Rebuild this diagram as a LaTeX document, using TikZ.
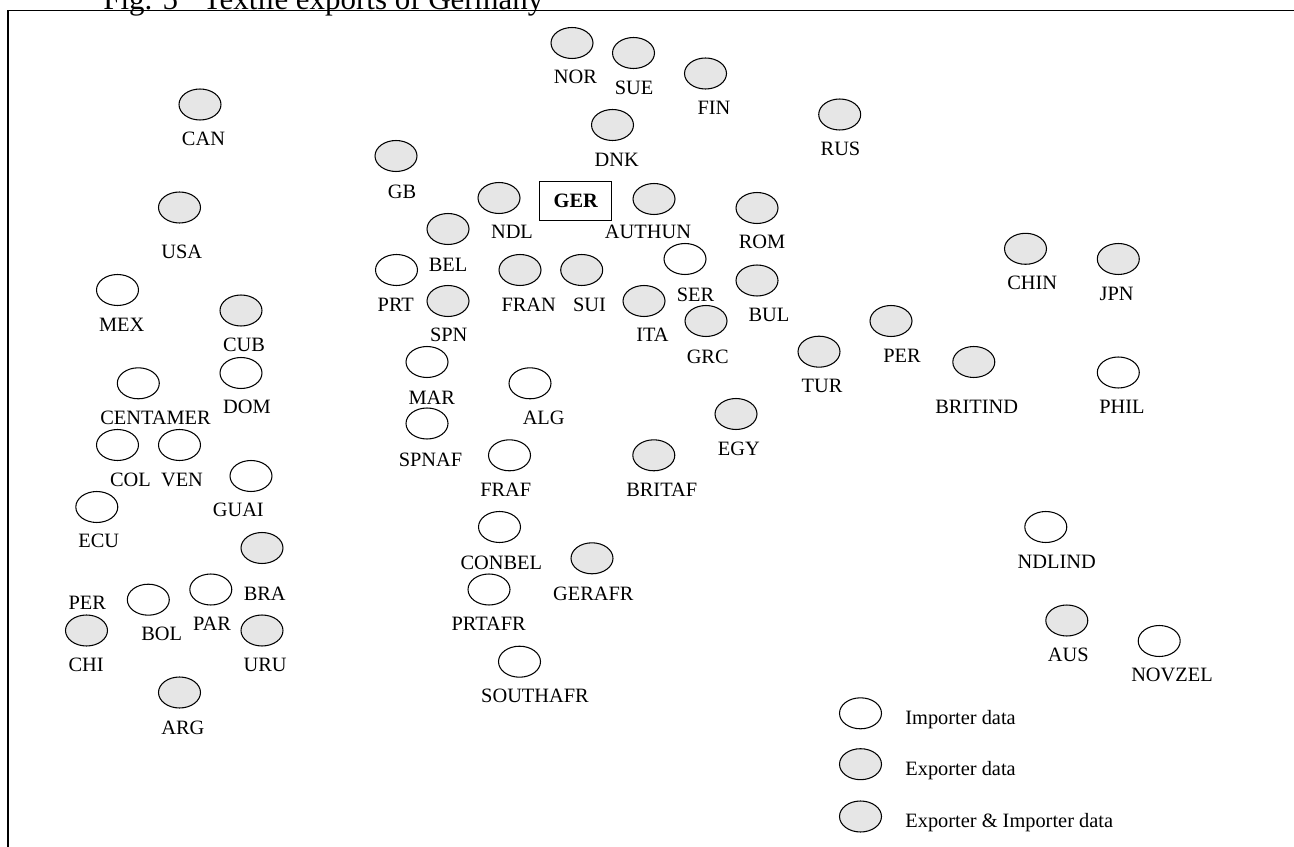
\documentclass[tikz,border=0pt]{standalone}
\usepackage{fontspec}
\setmainfont{Liberation Serif}
\usetikzlibrary{shapes.geometric, positioning}
\definecolor{exportgray}{RGB}{230,230,230}
\tikzset{
x=0.02cm, y=-0.02cm, % one unit is one pixel, y runs downwards
country/.style={ellipse, draw=black, line width=0.6pt, minimum width=0.84cm, minimum height=0.62cm, inner sep=0pt}, % the country ovals
importer/.style={country, fill=white}, % importer data only
exporter/.style={country, fill=exportgray}, % exporter data
lbl/.style={anchor=base, inner sep=0pt, font=\fontsize{11.6}{14}\selectfont}, % the country codes
legtext/.style={anchor=base west, inner sep=0pt, font=\fontsize{11.6}{14}\selectfont}, % the legend texts
}
\tikzset{
  home/.style={draw=black, line width=0.6pt, minimum width=1.434cm, minimum height=0.78cm, inner sep=0pt, font=\fontsize{11.6}{14}\selectfont\bfseries}
}

\begin{document}
\begin{tikzpicture}
      \useasboundingbox (0,0) rectangle (1294,847);
      \clip (0,0) rectangle (1294,847);
      \node[anchor=base west, inner sep=0pt, font=\fontsize{17.6}{20}\selectfont] (title) at (103,10) {Fig. 5\hspace{0.8em}Textile exports of Germany};
      \draw[line width=0.8pt] (8,900) |- (1340,10.5);

      \node[home] (ger) at (575.8,201) {GER};

      % Americas
      \node[exporter] (can) at (200,104.5) {};
      \node[lbl] (can-t) at (203.5,145.7) {CAN};
      \node[exporter] (usa) at (179.5,207.5) {};
      \node[lbl] (usa-t) at (181.7,258.7) {USA};
      \node[importer] (mex) at (117.5,290) {};
      \node[lbl] (mex-t) at (121.7,331.7) {MEX};
      \node[exporter] (cub) at (241,310.5) {};
      \node[lbl] (cub-t) at (244,351.7) {CUB};
      \node[importer] (centamer) at (138.3,383.3) {};
      \node[lbl] (centamer-t) at (155.5,425) {CENTAMER};
      \node[importer] (dom) at (241,373) {};
      \node[lbl] (dom-t) at (247,414) {DOM};
      \node[importer] (col) at (117.5,445) {};
      \node[lbl] (col-t) at (130.5,486.7) {COL};
      \node[importer] (ven) at (179.5,445) {};
      \node[lbl] (ven-t) at (182,486.7) {VEN};
      \node[importer] (guai) at (251,476) {};
      \node[lbl] (guai-t) at (238.3,516.7) {GUAI};
      \node[importer] (ecu) at (96.8,507) {};
      \node[lbl] (ecu-t) at (98.8,547.4) {ECU};
      \node[exporter] (bra) at (262,548) {};
      \node[lbl] (bra-t) at (264.7,600) {BRA};
      \node[importer] (par) at (210.8,589.5) {};
      \node[lbl] (par-t) at (212,630.7) {PAR};
      \node[lbl] (peru-t) at (87.2,609.4) {PER};
      \node[importer] (bol) at (148.3,599.7) {};
      \node[lbl] (bol-t) at (161.7,640.7) {BOL};
      \node[exporter] (chi) at (86.5,630.5) {};
      \node[lbl] (chi-t) at (86.2,671.7) {CHI};
      \node[exporter] (uru) at (262,630.5) {};
      \node[lbl] (uru-t) at (265.2,671.7) {URU};
      \node[exporter] (arg) at (179.5,692.5) {};
      \node[lbl] (arg-t) at (182.8,734) {ARG};

      % Europe
      \node[exporter] (nor) at (572,43) {};
      \node[lbl] (nor-t) at (575.5,83.7) {NOR};
      \node[exporter] (sue) at (633.5,53) {};
      \node[lbl] (sue-t) at (634,94.7) {SUE};
      \node[exporter] (fin) at (705.5,73.5) {};
      \node[lbl] (fin-t) at (714,114.7) {FIN};
      \node[exporter] (rus) at (839.7,114.5) {};
      \node[lbl] (rus-t) at (840.5,155.7) {RUS};
      \node[exporter] (dnk) at (612.5,125) {};
      \node[lbl] (dnk-t) at (616.7,166.7) {DNK};
      \node[exporter] (gb) at (396,156) {};
      \node[lbl] (gb-t) at (402,198.7) {GB};
      \node[exporter] (ndl) at (499,198) {};
      \node[lbl] (ndl-t) at (512,238.7) {NDL};
      \node[exporter] (authun) at (654,199) {};
      \node[lbl] (authun-t) at (648,238.7) {AUTHUN};
      \node[exporter] (rom) at (757,208) {};
      \node[lbl] (rom-t) at (762,248.7) {ROM};
      \node[exporter] (bel) at (448,229) {};
      \node[lbl] (bel-t) at (448,271.7) {BEL};
      \node[importer] (prt) at (396.5,270) {};
      \node[lbl] (prt-t) at (395.8,311.7) {PRT};
      \node[exporter] (fran) at (520,270) {};
      \node[lbl] (fran-t) at (528.7,311.7) {FRAN};
      \node[exporter] (sui) at (581.7,270) {};
      \node[lbl] (sui-t) at (589.5,311.7) {SUI};
      \node[importer] (ser) at (685,259) {};
      \node[lbl] (ser-t) at (695.5,301.7) {SER};
      \node[exporter] (bul) at (757,280.5) {};
      \node[lbl] (bul-t) at (769,321.7) {BUL};
      \node[exporter] (spn) at (448,301) {};
      \node[lbl] (spn-t) at (448.7,341.7) {SPN};
      \node[exporter] (ita) at (644,301) {};
      \node[lbl] (ita-t) at (652.5,341.7) {ITA};
      \node[exporter] (grc) at (706,321) {};
      \node[lbl] (grc-t) at (707.7,363.4) {GRC};
      \node[exporter] (tur) at (819,351.7) {};
      \node[lbl] (tur-t) at (822,392.7) {TUR};

      % Africa
      \node[importer] (mar) at (427,362) {};
      \node[lbl] (mar-t) at (431.8,404.4) {MAR};
      \node[importer] (spnaf) at (427,423.5) {};
      \node[lbl] (spnaf-t) at (430.5,466) {SPNAF};
      \node[importer] (alg) at (530,383.3) {};
      \node[lbl] (alg-t) at (543.7,425) {ALG};
      \node[importer] (fraf) at (509.5,455.3) {};
      \node[lbl] (fraf-t) at (505.8,496.7) {FRAF};
      \node[exporter] (britaf) at (653.8,455.3) {};
      \node[lbl] (britaf-t) at (661.7,496.7) {BRITAF};
      \node[exporter] (egy) at (736,414) {};
      \node[lbl] (egy-t) at (738.8,456) {EGY};
      \node[importer] (conbel) at (499.5,527) {};
      \node[lbl] (conbel-t) at (501.3,569.4) {CONBEL};
      \node[exporter] (gerafr) at (592,558.3) {};
      \node[lbl] (gerafr-t) at (593.3,600) {GERAFR};
      \node[importer] (prtafr) at (489,589.5) {};
      \node[lbl] (prtafr-t) at (488.7,630.7) {PRTAFR};
      \node[importer] (southafr) at (519.5,661.7) {};
      \node[lbl] (southafr-t) at (535,702.7) {SOUTHAFR};

      % Asia and Oceania
      \node[exporter] (chin) at (1025.5,248.8) {};
      \node[lbl] (chin-t) at (1032.2,290) {CHIN};
      \node[exporter] (jpn) at (1118.3,259) {};
      \node[lbl] (jpn-t) at (1116.7,301) {JPN};
      \node[exporter] (pers) at (891,321) {};
      \node[lbl] (pers-t) at (902,362.7) {PER};
      \node[exporter] (britind) at (973.8,362) {};
      \node[lbl] (britind-t) at (976.7,413.4) {BRITIND};
      \node[importer] (phil) at (1118.3,372.5) {};
      \node[lbl] (phil-t) at (1122,413.4) {PHIL};
      \node[importer] (ndlind) at (1045.8,527) {};
      \node[lbl] (ndlind-t) at (1056.7,568.4) {NDLIND};
      \node[exporter] (aus) at (1066.8,620.5) {};
      \node[lbl] (aus-t) at (1068.3,661.7) {AUS};
      \node[importer] (novzel) at (1159.2,641) {};
      \node[lbl] (novzel-t) at (1172,681.7) {NOVZEL};

      % legend
      \node[importer] (leg-imp) at (860.5,713.3) {};
      \node[legtext] (leg-imp-t) at (905,724) {Importer data};
      \node[exporter] (leg-exp) at (860.5,764.2) {};
      \node[legtext] (leg-exp-t) at (905,775) {Exporter data};
      \node[exporter] (leg-both) at (860.5,816.5) {};
      \node[legtext] (leg-both-t) at (905,827.3) {Exporter \& Importer data};
    \end{tikzpicture}
\end{document}
